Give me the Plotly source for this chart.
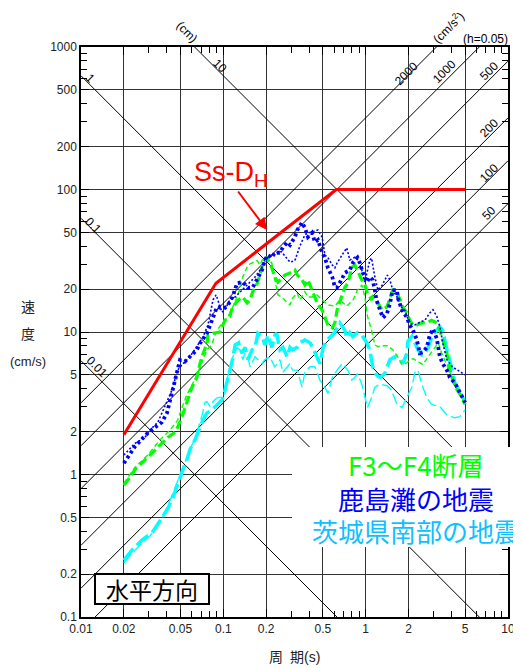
import math
import plotly.graph_objects as go

# ---------------- data ----------------
period_major = [0.01, 0.02, 0.05, 0.1, 0.2, 0.5, 1, 2, 5, 10]
period_labels = ["0.01", "0.02", "0.05", "0.1", "0.2", "0.5", "1", "2", "5", "10"]
vel_major = [0.1, 0.2, 0.5, 1, 2, 5, 10, 20, 50, 100, 200, 500, 1000]
vel_labels = ["0.1", "0.2", "0.5", "1", "2", "5", "10", "20", "50", "100", "200", "500", "1000"]
period_minor = [0.03, 0.04, 0.06, 0.07, 0.08, 0.09, 0.3, 0.4, 0.6, 0.7, 0.8, 0.9,
                3, 4, 6, 7, 8, 9]
vel_minor = [0.3, 0.4, 0.6, 0.7, 0.8, 0.9, 3, 4, 6, 7, 8, 9, 30, 40, 60, 70, 80, 90,
             300, 400, 600, 700, 800, 900]

disp_lines = [0.01, 0.1, 1, 10]               # cm
accel_lines = [50, 100, 200, 500, 1000, 2000]  # cm/s^2

ss_T = [0.02, 0.0887, 0.62, 5.0]
ss_V = [1.9, 22.0, 100.0, 100.0]

kashima1_T = [0.020,0.0239,0.0295,0.0331,0.0370,0.0402,0.0422,0.0457,0.0496,0.0537,0.0582,0.0652,0.0685,0.0767,0.0846,0.0902,0.0977,0.106,0.116,0.125,0.137,0.149,0.161,0.175,0.187,0.196,0.205,0.219,0.230,0.250,0.262,0.281,0.294,0.318,0.331,0.357,0.374,0.393,0.420,0.440,0.462,0.494,0.517,0.543,0.583,0.608,0.630,0.675,0.714,0.774,0.817,0.876,0.910,0.955,1.02,1.07,1.12,1.16,1.19,1.26,1.32,1.41,1.48,1.55,1.66,1.68,1.80,1.95,2.04,2.15,2.29,2.40,2.52,2.69,2.82,2.97,3.16,3.32,3.48,3.72,3.90,4.23,4.58,5.00]
kashima1_V = [1.20,1.57,1.96,2.15,2.33,2.70,3.33,4.70,6.36,6.20,6.70,7.50,8.30,9.80,12.6,15.0,14.7,15.0,17.6,22.0,22.4,20.4,20.6,24.3,27.2,32.0,34.7,33.3,36.0,36.0,39.3,42.7,40.8,46.4,52.0,58.7,53.9,46.4,49.6,42.7,44.3,36.0,33.3,28.2,24.3,20.6,20.6,23.2,26.0,27.2,30.9,33.3,30.5,26.0,22.4,24.3,23.2,19.7,16.8,14.3,12.6,13.4,15.8,19.7,19.7,17.4,14.3,12.6,11.2,10.3,8.8,7.1,7.2,7.8,9.5,10.5,9.0,6.7,6.0,5.4,4.8,4.4,3.8,3.2]

kashima2_T = [0.020,0.0239,0.0281,0.0315,0.0347,0.0389,0.0436,0.0478,0.0511,0.0582,0.0652,0.0719,0.078,0.0846,0.089,0.0917,0.0977,0.1026,0.111,0.121,0.142,0.167,0.187,0.196,0.212,0.230,0.256,0.281,0.294,0.318,0.345,0.374,0.393,0.424,0.462,0.494,0.503,0.517,0.543,0.583,0.608,0.630,0.683,0.714,0.736,0.774,0.840,0.882,0.940,0.987,1.07,1.10,1.16,1.22,1.31,1.42,1.48,1.55,1.66,1.74,1.88,2.04,2.22,2.40,2.61,2.82,2.97,3.16,3.32,3.48,3.72,4.06,4.40,5.00]
kashima2_V = [1.37,1.65,1.82,2.12,2.33,2.98,3.92,5.41,5.87,6.7,7.9,9.2,11.2,16.8,18.2,16.8,13.8,14.3,16.8,17.6,20.6,24.3,28.4,33.0,33.3,36.0,36.6,33.0,30.9,31.7,40.1,48.0,49.6,50.4,52.0,46.4,40.1,34.7,33.3,29.5,28.2,30.5,34.7,37.6,38.9,32.0,33.5,32.0,27.2,22.4,32.0,33.0,24.3,19.7,21.4,25.1,23.2,19.7,17.6,15.2,14.3,11.5,11.2,11.7,12.1,13.6,14.3,12.9,10.9,8.4,6.4,5.7,5.4,5.0]

fault1_T = [0.020,0.0214,0.0239,0.0268,0.0295,0.0331,0.0370,0.0408,0.0457,0.0478,0.051,0.0553,0.0602,0.0652,0.0685,0.0719,0.0767,0.078,0.0846,0.0947,0.1026,0.111,0.116,0.128,0.137,0.147,0.154,0.161,0.173,0.181,0.190,0.203,0.206,0.219,0.230,0.242,0.256,0.271,0.294,0.318,0.331,0.357,0.374,0.393,0.420,0.440,0.462,0.494,0.517,0.543,0.583,0.608,0.630,0.675,0.714,0.750,0.800,0.840,0.880,0.940,0.987,1.03,1.10,1.12,1.22,1.31,1.41,1.48,1.55,1.66,1.74,1.82,1.95,2.04,2.15,2.29,2.48,2.69,2.90,3.16,3.32,3.48,3.72,3.90,4.10,4.40,4.75,5.00]
fault1_V = [0.84,0.915,1.08,1.21,1.32,1.49,1.65,1.82,1.98,2.15,2.5,3.2,4.1,4.8,6.0,7.0,8.3,9.5,9.8,10.0,12.1,12.8,15.0,16.8,17.6,16.0,16.8,19.2,22.0,25.1,30.5,33.3,32.0,28.4,24.3,22.4,23.8,25.1,26.0,27.2,25.1,23.2,21.4,23.2,19.7,17.6,15.5,14.3,12.9,11.2,10.7,11.6,14.3,17.6,20.6,22.0,28.4,29.5,26.5,23.2,21.4,18.8,16.8,17.6,15.9,14.3,15.0,17.6,19.7,19.0,16.8,15.0,13.6,12.1,11.2,11.2,11.6,11.6,12.1,11.6,10.3,8.8,7.1,5.4,4.6,3.9,3.5,3.1]

fault2_T = [0.020,0.0239,0.0295,0.0359,0.0422,0.0478,0.052,0.0553,0.0602,0.0652,0.0719,0.0767,0.0829,0.0873,0.0917,0.0947,0.1026,0.111,0.120,0.128,0.137,0.149,0.159,0.173,0.181,0.190,0.206,0.219,0.230,0.242,0.256,0.271,0.294,0.306,0.330,0.345,0.374,0.393,0.420,0.454,0.494,0.543,0.608,0.659,0.736,0.817,0.876,0.940,0.987,1.03,1.10,1.16,1.22,1.32,1.43,1.55,1.68,1.80,1.95,2.15,2.33,2.52,2.75,2.97,3.24,3.40,3.72,4.06,4.40,5.00]
fault2_V = [0.87,1.12,1.37,1.75,2.05,2.41,3.07,3.6,4.25,5.0,6.36,7.5,8.1,9.5,10.5,11.0,12.0,13.5,16.0,18.8,24.3,29.5,30.5,31.7,29.5,33.0,33.3,30.5,23.2,18.2,17.6,16.8,15.5,17.2,18.8,16.8,19.2,17.6,17.6,18.2,16.8,15.5,15.2,16.8,15.2,16.8,19.7,21.4,17.6,12.9,10.3,8.1,7.9,8.0,8.0,7.5,6.7,5.9,6.1,6.5,6.2,5.9,6.7,7.5,8.4,7.2,5.9,4.8,3.9,3.3]

ibaraki1_T = [0.020,0.0228,0.0268,0.0315,0.0347,0.0376,0.0408,0.0443,0.0478,0.052,0.0553,0.0582,0.0632,0.0664,0.0719,0.0767,0.0829,0.0902,0.0977,0.1026,0.107,0.116,0.121,0.128,0.135,0.142,0.149,0.159,0.167,0.175,0.187,0.196,0.206,0.219,0.230,0.237,0.250,0.262,0.281,0.294,0.306,0.330,0.345,0.374,0.406,0.424,0.454,0.477,0.503,0.535,0.583,0.608,0.659,0.714,0.736,0.774,0.810,0.876,0.940,1.02,1.07,1.12,1.19,1.26,1.36,1.48,1.60,1.74,1.82,1.95,1.98,2.11,2.22,2.33,2.48,2.61,2.75,2.90,3.06,3.32,3.48,3.72,4.06,4.23,4.58,5.00]
ibaraki1_V = [0.25,0.295,0.347,0.39,0.45,0.51,0.58,0.69,0.87,1.08,1.26,1.49,1.75,2.0,2.41,2.7,2.84,3.07,3.33,3.9,4.6,6.4,8.1,8.4,7.1,7.8,6.4,7.5,7.8,9.8,9.3,8.1,9.5,7.8,9.5,9.8,7.5,7.8,6.7,7.8,7.5,7.8,8.4,8.8,8.4,7.8,6.7,6.0,7.8,8.8,9.5,10.0,11.6,10.3,9.1,9.9,9.3,9.9,9.5,8.4,7.5,5.7,5.0,4.8,5.1,6.4,6.7,6.4,6.0,7.1,8.6,9.3,8.4,7.5,6.9,7.1,7.8,9.1,9.9,10.9,10.3,7.5,5.4,4.4,3.8,3.2]

ibaraki2_T = [0.020,0.0228,0.026,0.0305,0.0347,0.0389,0.0422,0.0457,0.0496,0.0537,0.0582,0.0632,0.0664,0.071,0.0743,0.0767,0.0806,0.0846,0.0902,0.0977,0.1026,0.107,0.116,0.125,0.131,0.137,0.142,0.149,0.154,0.167,0.175,0.187,0.196,0.212,0.230,0.250,0.262,0.281,0.294,0.306,0.331,0.357,0.374,0.406,0.440,0.477,0.517,0.543,0.583,0.630,0.683,0.750,0.800,0.840,0.876,0.940,0.987,1.03,1.10,1.16,1.26,1.41,1.52,1.66,1.80,1.95,2.11,2.22,2.33,2.48,2.69,2.90,3.32,3.72,4.23,4.58,5.00]
ibaraki2_V = [0.24,0.28,0.32,0.37,0.44,0.54,0.66,0.80,0.99,1.21,1.49,1.8,2.1,2.62,3.2,3.25,3.0,3.25,3.45,3.5,3.7,4.8,6.6,7.8,7.5,6.4,7.1,6.7,5.7,6.7,6.4,6.0,6.4,6.7,5.7,6.4,5.2,5.7,6.0,5.4,5.4,4.1,5.2,5.7,5.7,4.6,4.1,3.7,4.8,5.4,6.0,5.4,4.6,4.8,5.1,4.3,3.45,2.95,3.45,4.1,4.3,4.2,3.9,3.1,2.95,3.45,4.1,5.2,5.4,4.3,3.45,3.1,3.0,2.62,2.5,2.55,2.84]

legend_texts = ["F3～F4断層", "鹿島灘の地震", "茨城県南部の地震"]

# ---------------- styles ----------------
GREEN = "#00ff00"
BLUE = "#0000ff"
CYAN = "#00ffff"
FONT = "Liberation Sans, Arial, Noto Sans CJK JP, sans-serif"
JFONT = "Noto Sans CJK JP, Liberation Sans, sans-serif"

fig = go.Figure()

T_span = [0.01, 10.0]
for d in disp_lines:
    fig.add_trace(go.Scatter(x=T_span, y=[2 * math.pi * d / t for t in T_span], mode="lines",
                             line=dict(color="black", width=1), hoverinfo="skip", showlegend=False))
for a in accel_lines:
    fig.add_trace(go.Scatter(x=T_span, y=[a * t / (2 * math.pi) for t in T_span], mode="lines",
                             line=dict(color="black", width=1), hoverinfo="skip", showlegend=False))

series = [
    (ibaraki2_T, ibaraki2_V, CYAN, 1.4, "11px,4px"),
    (ibaraki1_T, ibaraki1_V, CYAN, 3.5, "15px,5px"),
    (fault2_T, fault2_V, GREEN, 1.4, "5px,3px"),
    (fault1_T, fault1_V, GREEN, 3.2, "9px,4px"),
    (kashima2_T, kashima2_V, BLUE, 1.6, "2px,2px"),
    (kashima1_T, kashima1_V, BLUE, 3.8, "3px,3px"),
]
for tx, vy, col, w, dash in series:
    fig.add_trace(go.Scatter(x=tx, y=vy, mode="lines", line=dict(color=col, width=w, dash=dash),
                             showlegend=False))

fig.add_trace(go.Scatter(x=ss_T, y=ss_V, mode="lines", line=dict(color="#ff0000", width=3),
                         showlegend=False))

axis_common = dict(
    type="log", showgrid=True, gridcolor="#333333", gridwidth=1.1, automargin=False,
    showline=True, linecolor="black", linewidth=1.5, mirror="allticks",
    ticks="inside", ticklen=8, tickcolor="black", tickwidth=1,
    tickfont=dict(family=FONT, size=12, color="#222222"),
    zeroline=False,
)
fig.update_xaxes(range=[-2, 1], tickmode="array", tickvals=period_major, ticktext=period_labels,
                 minor=dict(tickmode="array", tickvals=period_minor, ticks="inside", ticklen=6,
                            tickcolor="black", showgrid=False),
                 **axis_common)
fig.update_yaxes(range=[-1, 3], tickmode="array", tickvals=vel_major, ticktext=vel_labels,
                 minor=dict(tickmode="array", tickvals=vel_minor, ticks="inside", ticklen=6,
                            tickcolor="black", showgrid=False),
                 **axis_common)

# page body has an 8px default margin; the figure is sized so the page is 521x668
OFF = 8
FW, FH = 521 - OFF, 668 - OFF
L, T, W, H = 81 - OFF, 47 - OFF, 427, 570


def px(xp):
    return (xp - OFF - L) / W


def py(yp):
    return (T + H - (yp - OFF)) / H


shapes = [
    dict(type="rect", xref="paper", yref="paper", x0=px(292), x1=px(530), y0=py(547), y1=py(447),
         fillcolor="white", line=dict(width=0), layer="above"),
]

ann = []
# legend text
for txt, col, yc in zip(legend_texts, [GREEN, BLUE, "#10bfff"], [464, 498, 530]):
    ann.append(dict(text=txt, x=px(416), y=py(yc), xref="paper", yref="paper", showarrow=False,
                    font=dict(family=JFONT, size=26, color=col), xanchor="center", yanchor="middle",
                    height=30, borderpad=0))
# 水平方向 box
ann.append(dict(text="水平方向", x=px(151.5), y=py(588.5), xref="paper", yref="paper", showarrow=False,
                font=dict(family=JFONT, size=23, color="black"), bgcolor="white", bordercolor="black",
                borderwidth=2, borderpad=0, width=112, height=28, xanchor="center", yanchor="middle"))
# Ss-DH label and arrow
ann.append(dict(text="Ss-D<sub>H</sub>", x=px(192), y=py(174), xref="paper", yref="paper", showarrow=False,
                font=dict(family=FONT, size=27, color="#ff0000"), xanchor="left", yanchor="middle"))
ann.append(dict(text="", x=px(267), y=py(230), xref="paper", yref="paper", showarrow=True,
                ax=-30, ay=-40, arrowcolor="#ff0000", arrowwidth=2, arrowhead=2, arrowsize=1.2,
                standoff=0))
# axis titles
for txt, yc, sz in [("速", 307, 14), ("度", 334, 14), ("(cm/s)", 362, 13)]:
    ann.append(dict(text=txt, x=px(28), y=py(yc), xref="paper", yref="paper", showarrow=False,
                    font=dict(family=FONT, size=sz, color="#222222"), xanchor="center", yanchor="middle"))
ann.append(dict(text="周\u2002期(s)", x=px(294), y=py(657), xref="paper", yref="paper", showarrow=False,
                font=dict(family=FONT, size=14, color="#222222"), xanchor="center", yanchor="middle"))
# tripartite labels
small = dict(family=FONT, size=12, color="black")
for txt, xx, yy, ang in [
    ("1", 90, 78, 45), ("10", 220, 66, 45), ("0.1", 93, 225, 45), ("0.01", 97, 367, 45),
    ("(cm)", 187, 32, 45),
    ("2000", 406, 74, -45), ("1000", 444, 72, -45), ("500", 489, 71, -45),
    ("200", 489, 128, -45), ("100", 489, 173, -45), ("50", 489, 213, -45),
    ("(cm/s<sup>2</sup>)", 448, 27, -45),
]:
    ann.append(dict(text=txt, x=px(xx), y=py(yy), xref="paper", yref="paper", showarrow=False,
                    font=small, textangle=ang, xanchor="center", yanchor="middle"))
ann.append(dict(text="(h=0.05)", x=px(485), y=py(39), xref="paper", yref="paper", showarrow=False,
                font=small, xanchor="center", yanchor="middle"))

fig.update_layout(
    width=FW, height=FH, margin=dict(l=L, r=FW - L - W, t=T, b=FH - T - H),
    paper_bgcolor="white", plot_bgcolor="white", showlegend=False,
    shapes=shapes, annotations=ann,
)

fig.write_html("out.html")
